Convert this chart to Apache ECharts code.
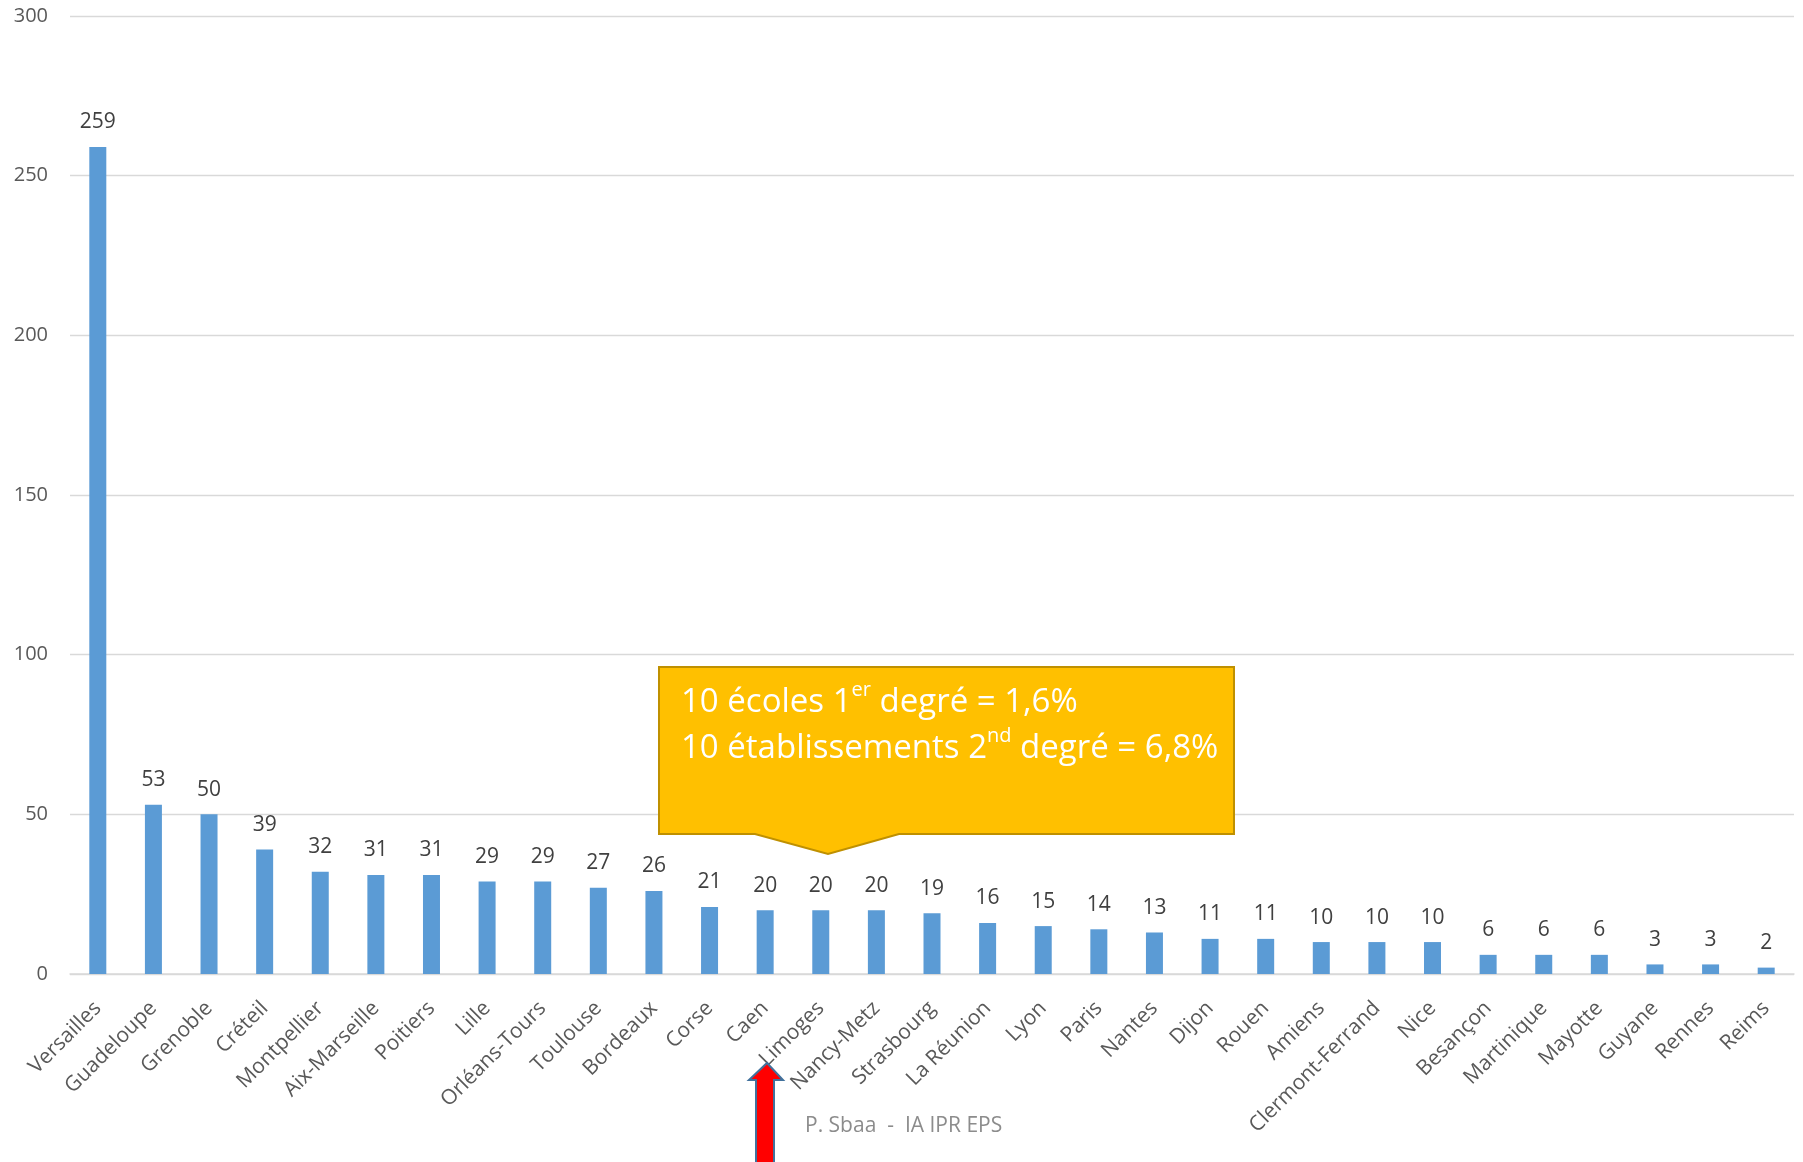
<!DOCTYPE html>
<html>
<head>
<meta charset="utf-8">
<script src="https://cdn.jsdelivr.net/npm/echarts@6/dist/echarts.min.js"></script>
<style>
html,body{margin:0;padding:0;background:#fff;}
#main{width:1803px;height:1162px;}
</style>
</head>
<body>
<div id="main"></div>
<script>
const categories = ["Versailles","Guadeloupe","Grenoble","Créteil","Montpellier","Aix-Marseille","Poitiers","Lille","Orléans-Tours","Toulouse","Bordeaux","Corse","Caen","Limoges","Nancy-Metz","Strasbourg","La Réunion","Lyon","Paris","Nantes","Dijon","Rouen","Amiens","Clermont-Ferrand","Nice","Besançon","Martinique","Mayotte","Guyane","Rennes","Reims"];
const values = [259,53,50,39,32,31,31,29,29,27,26,21,20,20,20,19,16,15,14,13,11,11,10,10,10,6,6,6,3,3,2];
const yTicks = { min: 0, max: 300, interval: 50 };
const calloutLine1 = ["10 écoles 1", "er", " degré = 1,6%"];
const calloutLine2 = ["10 établissements 2", "nd", " degré = 6,8%"];
const footer = "P. Sbaa  -  IA IPR EPS";

const FONT = "'Open Sans', sans-serif";
const chart = echarts.init(document.getElementById('main'), null, {renderer:'canvas'});
chart.setOption({
  backgroundColor: '#ffffff',
  animation: false,
  grid: { left: 70, right: 9, top: 16, bottom: 188, containLabel: false },
  xAxis: {
    type: 'category',
    data: categories,
    axisLine: { show: true, lineStyle: { color: '#D9D9D9', width: 1.5 } },
    axisTick: { show: false },
    axisLabel: { interval: 0, rotate: 45, margin: 31, fontSize: 21, color: '#595959', fontFamily: FONT }
  },
  yAxis: {
    type: 'value',
    min: yTicks.min, max: yTicks.max, interval: yTicks.interval,
    axisLine: { show: false },
    axisTick: { show: false },
    axisLabel: { fontSize: 20, color: '#595959', margin: 22, fontFamily: FONT },
    splitLine: { lineStyle: { color: '#D9D9D9', width: 1.3 } }
  },
  series: [{
    type: 'bar',
    data: values,
    barWidth: 17,
    itemStyle: { color: '#5B9BD5' },
    label: { show: true, position: 'top', distance: 14, fontSize: 21, color: '#404040', fontFamily: FONT }
  }],
  graphic: [
    {
      type: 'polygon',
      shape: { points: [[659,667],[1234,667],[1234,834],[899,834],[828,854],[755,834],[659,834]] },
      style: { fill: '#FFC000', stroke: '#BF9000', lineWidth: 2 },
      z: 10
    },
    {
      type: 'text',
      left: 681, top: 680,
      z: 11,
      style: {
        text: '{n|' + calloutLine1[0] + '}{s|' + calloutLine1[1] + '}{n|' + calloutLine1[2] + '}\n{n|' + calloutLine2[0] + '}{s|' + calloutLine2[1] + '}{n|' + calloutLine2[2] + '}',
        fill: '#ffffff',
        font: '33px ' + FONT,
        rich: {
          n: { fontSize: 33, fill: '#ffffff', fontFamily: FONT, lineHeight: 46, verticalAlign: 'middle' },
          s: { fontSize: 20, fill: '#ffffff', fontFamily: FONT, lineHeight: 28, verticalAlign: 'top' }
        }
      }
    },
    {
      type: 'polygon',
      shape: { points: [[767,1063],[783,1080],[774,1080],[774,1175],[756,1175],[756,1080],[749,1080]] },
      style: { fill: '#FF0000', stroke: '#41719C', lineWidth: 2 },
      z: 10
    },
    {
      type: 'text',
      left: 805, top: 1116,
      z: 11,
      style: { text: footer, fill: '#8C8C8C', font: '21px ' + FONT }
    }
  ]
});
</script>
</body>
</html>
